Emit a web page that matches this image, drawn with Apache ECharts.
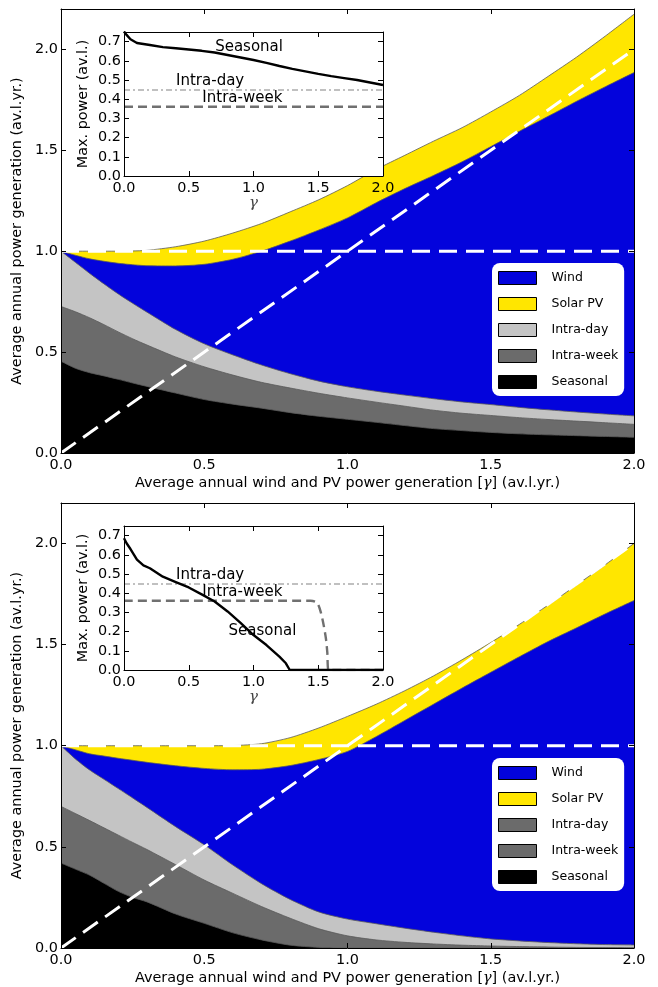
<!DOCTYPE html>
<html><head><meta charset="utf-8">
<script src="https://cdn.jsdelivr.net/npm/echarts@6/dist/echarts.min.js"></script>
<style>html,body{margin:0;padding:0;background:#fff}#c{width:658px;height:987px}</style>
</head><body><div id="c"></div>
<script>
// ---------- data ----------
const xs = [0,0.05,0.1,0.15,0.2,0.25,0.3,0.4,0.5,0.6,0.7,0.8,0.9,1.0,1.1,1.2,1.3,1.4,1.5,1.6,1.7,1.8,1.9,2.0];

// top panel: upper boundary of each layer (av.l.yr.)
const topSolar     = [1.0,1.0,1.0,1.0,1.0,1.001,1.004,1.022,1.05,1.09,1.137,1.195,1.255,1.325,1.405,1.475,1.545,1.612,1.69,1.772,1.866,1.962,2.066,2.174];
const topWind      = [1.0,0.98,0.962,0.95,0.94,0.933,0.928,0.927,0.935,0.96,1.0,1.05,1.105,1.165,1.24,1.31,1.375,1.443,1.518,1.594,1.668,1.743,1.815,1.885];
const topIntraDay  = [1.0,0.945,0.89,0.838,0.788,0.742,0.698,0.612,0.541,0.486,0.436,0.393,0.356,0.328,0.306,0.287,0.269,0.253,0.24,0.226,0.214,0.203,0.193,0.184];
const topIntraWeek = [0.726,0.70,0.67,0.636,0.60,0.566,0.535,0.476,0.427,0.386,0.35,0.322,0.296,0.273,0.252,0.232,0.212,0.197,0.186,0.175,0.166,0.158,0.15,0.142];
const topSeasonal  = [0.455,0.42,0.398,0.382,0.365,0.347,0.33,0.297,0.265,0.242,0.222,0.2,0.182,0.167,0.152,0.136,0.121,0.111,0.102,0.095,0.09,0.086,0.082,0.078];

// bottom panel
const botSolar     = [1.0,1.0,1.0,1.0,1.0,1.0,1.0,1.0,1.0,1.001,1.01,1.04,1.088,1.145,1.205,1.272,1.345,1.425,1.51,1.6,1.695,1.795,1.895,2.0];
const botWind      = [1.0,0.98,0.96,0.949,0.938,0.928,0.918,0.901,0.888,0.881,0.884,0.902,0.932,0.972,1.045,1.125,1.205,1.285,1.363,1.44,1.515,1.583,1.652,1.718];
const botIntraDay  = [1.0,0.935,0.88,0.834,0.788,0.742,0.695,0.60,0.51,0.41,0.318,0.24,0.178,0.143,0.12,0.098,0.078,0.06,0.045,0.035,0.027,0.021,0.017,0.015];
const botIntraWeek = [0.70,0.665,0.63,0.594,0.558,0.522,0.487,0.412,0.336,0.27,0.205,0.147,0.095,0.06,0.04,0.028,0.02,0.014,0.01,0.007,0.005,0.003,0.002,0.001];
const botSeasonal  = [0.42,0.39,0.36,0.32,0.28,0.25,0.228,0.168,0.122,0.075,0.04,0.014,0.003,0,0,0,0,0,0,0,0,0,0,0];

// reference lines
const demandX = [0, 2], demandY = [1, 1];
const diagX = [0, 2], diagY = [0, 2];

// insets: max. power (av.l.)
const topInsetX        = [0,0.02,0.05,0.1,0.2,0.3,0.4,0.5,0.6,0.7,0.8,0.9,1.0,1.1,1.2,1.3,1.4,1.5,1.6,1.7,1.8,1.9,2.0];
const topInsetSeasonal = [0.752,0.735,0.712,0.693,0.682,0.671,0.665,0.659,0.652,0.643,0.63,0.617,0.604,0.589,0.573,0.558,0.545,0.532,0.52,0.51,0.5,0.487,0.474];
const topInsetDayX = [0, 2],  topInsetDay  = [0.448, 0.448];
const topInsetWeekX = [0, 2], topInsetWeek = [0.361, 0.361];

const botInsetX        = [0,0.02,0.05,0.1,0.15,0.2,0.3,0.4,0.5,0.6,0.7,0.8,0.9,1.0,1.1,1.2,1.25,1.28,1.5,2.0];
const botInsetSeasonal = [0.686,0.66,0.63,0.575,0.545,0.53,0.486,0.458,0.43,0.394,0.357,0.305,0.245,0.182,0.13,0.07,0.035,0.0,0.0,0.0];
const botInsetDayX = [0, 2], botInsetDay = [0.448, 0.448];
const botInsetWeekX = [0,1.44,1.48,1.5,1.52,1.54,1.56,1.57,1.58,2.0];
const botInsetWeek  = [0.361,0.361,0.355,0.34,0.30,0.24,0.16,0.09,0.0,0.0];

// inset annotations: [x, y] of left edge / vertical centre
const topNotes = [['Seasonal',0.704,0.673],['Intra-day',0.402,0.495],['Intra-week',0.605,0.406]];
const botNotes = [['Intra-day',0.402,0.495],['Intra-week',0.605,0.406],['Seasonal',0.807,0.203]];

const xTicks = [0, 0.5, 1.0, 1.5, 2.0];
const yTicksMain = [0, 0.5, 1.0, 1.5, 2.0];
const yTicksInset = [0,0.1,0.2,0.3,0.4,0.5,0.6,0.7];

// ---------- chart ----------
const FONT = 'DejaVu Sans';
const C = {wind:'#0303dc', solar:'#ffe600', day:'#c4c4c4', week:'#6b6b6b', seas:'#000000'};
const pairs = (a, b) => a.map((v, i) => [v, b[i]]);

function axisPair(kind, gridIndex, min, max, interval, z, ticks, nameOpts) {
  const base = {
    type: 'value', gridIndex, min, max, interval, z,
    splitLine: {show: false},
    axisLine: {show: true, onZero: false, lineStyle: {color: '#000', width: 1}},
    axisTick: {show: true, inside: true, length: 5, lineStyle: {color: '#000', width: 1}, customValues: ticks},
  };
  const primary = Object.assign({}, base, {
    position: kind === 'x' ? 'bottom' : 'left',
    axisLabel: {show: true, color: '#000', fontSize: 14.4, fontFamily: FONT,
      margin: kind === 'x' ? 5 : 3, customValues: ticks, formatter: v => v.toFixed(1)}
  }, nameOpts || {});
  const mirror = Object.assign({}, base, {
    position: kind === 'x' ? 'top' : 'right',
    axisLabel: {show: false}
  });
  return [primary, mirror];
}

const xName = 'Average annual wind and PV power generation [{g|γ}] (av.l.yr.)';
const xNameStyle = {color: '#000', fontSize: 14.4, fontFamily: FONT,
  rich: {g: {fontFamily: 'DejaVu Serif', fontStyle: 'italic', fontSize: 14.4, color: '#000'}}};
const mainXName = {name: xName, nameLocation: 'middle', nameGap: 23, nameTextStyle: xNameStyle};
const mainYName = {name: 'Average annual power generation (av.l.yr.)', nameLocation: 'middle', nameGap: 36,
  nameTextStyle: {color: '#000', fontSize: 14.4, fontFamily: FONT}};
const insetXName = {name: 'γ', nameLocation: 'middle', nameGap: 19,
  nameTextStyle: {color: '#444', fontSize: 15, fontFamily: 'DejaVu Serif', fontStyle: 'italic'}};
const insetYName = {name: 'Max. power (av.l.)', nameLocation: 'middle', nameGap: 34,
  nameTextStyle: {color: '#000', fontSize: 14.4, fontFamily: FONT}};

const xAxis = [
  ...axisPair('x', 0, 0, 2, 0.5, 4, xTicks, mainXName),
  ...axisPair('x', 1, 0, 2, 0.5, 7, xTicks, insetXName),
  ...axisPair('x', 2, 0, 2, 0.5, 4, xTicks, mainXName),
  ...axisPair('x', 3, 0, 2, 0.5, 7, xTicks, insetXName),
];
const yAxis = [
  ...axisPair('y', 0, 0, 2.2, 0.5, 4, yTicksMain, mainYName),
  ...axisPair('y', 1, 0, 0.75, 0.1, 7, yTicksInset, insetYName),
  ...axisPair('y', 2, 0, 2.2, 0.5, 4, yTicksMain, mainYName),
  ...axisPair('y', 3, 0, 0.75, 0.1, 7, yTicksInset, insetYName),
];

function areaSeries(name, color, xa, ya, axisIdx) {
  return {
    type: 'line', name, data: pairs(xa, ya), xAxisIndex: axisIdx, yAxisIndex: axisIdx,
    symbol: 'none', smooth: 0.25, z: 2, silent: true, clip: true,
    lineStyle: {color: '#5a5a5a', width: 0.8},
    itemStyle: {color},
    areaStyle: {color, opacity: 1}
  };
}
function dashLine(xa, ya, axisIdx) {
  return {type: 'line', data: pairs(xa, ya), xAxisIndex: axisIdx, yAxisIndex: axisIdx,
    symbol: 'none', z: 3, silent: true,
    lineStyle: {color: '#fff', width: 3, type: [18, 9]}};
}
function insetLine(xa, ya, axisIdx, color, width, type, smooth) {
  return {type: 'line', data: pairs(xa, ya), xAxisIndex: axisIdx, yAxisIndex: axisIdx,
    symbol: 'none', z: 6, silent: true, smooth: smooth || false,
    lineStyle: {color, width, type}};
}
function notes(arr, axisIdx) {
  return {type: 'scatter', xAxisIndex: axisIdx, yAxisIndex: axisIdx, z: 8, silent: true,
    symbolSize: 0, itemStyle: {opacity: 1},
    data: arr.map(n => ({name: n[0], value: [n[1], n[2]]})),
    label: {show: true, formatter: '{b}', position: 'right', distance: 0, opacity: 1,
      color: '#000', fontSize: 15, fontFamily: FONT}};
}

const series = [
  // top main
  areaSeries('Solar PV', C.solar, xs, topSolar, 0),
  areaSeries('Wind', C.wind, xs, topWind, 0),
  areaSeries('Intra-day', C.day, xs, topIntraDay, 0),
  areaSeries('Intra-week', C.week, xs, topIntraWeek, 0),
  areaSeries('Seasonal', C.seas, xs, topSeasonal, 0),
  dashLine(demandX, demandY, 0),
  dashLine(diagX, diagY, 0),
  // top inset
  insetLine(topInsetDayX, topInsetDay, 2, '#c0c0c0', 2, [6, 3, 2, 3]),
  insetLine(topInsetWeekX, topInsetWeek, 2, '#707070', 2.4, [9, 5]),
  insetLine(topInsetX, topInsetSeasonal, 2, '#000', 2.4, 'solid'),
  notes(topNotes, 2),
  // bottom main
  areaSeries('Solar PV', C.solar, xs, botSolar, 4),
  areaSeries('Wind', C.wind, xs, botWind, 4),
  areaSeries('Intra-day', C.day, xs, botIntraDay, 4),
  areaSeries('Intra-week', C.week, xs, botIntraWeek, 4),
  areaSeries('Seasonal', C.seas, xs, botSeasonal, 4),
  dashLine(demandX, demandY, 4),
  dashLine(diagX, diagY, 4),
  // bottom inset
  insetLine(botInsetDayX, botInsetDay, 6, '#c0c0c0', 2, [6, 3, 2, 3]),
  insetLine(botInsetWeekX, botInsetWeek, 6, '#707070', 2.4, [9, 5], 0.3),
  insetLine(botInsetX, botInsetSeasonal, 6, '#000', 2.4, 'solid'),
  notes(botNotes, 6),
];

function legendFor(top, dayColor) {
  const it = c => ({color: c, borderColor: '#000', borderWidth: 1});
  return {
    show: true, orient: 'vertical', left: 492, top, z: 10, selectedMode: false,
    icon: 'rect', itemWidth: 38, itemHeight: 13, itemGap: 12,
    padding: [8, 6, 7, 6], backgroundColor: '#fff', borderRadius: 8, borderWidth: 0,
    textStyle: {color: '#000', fontSize: 12.5, fontFamily: FONT, padding: [0, 0, 0, 10]},
    data: [
      {name: 'Wind', itemStyle: it(C.wind)},
      {name: 'Solar PV', itemStyle: it(C.solar)},
      {name: 'Intra-day', itemStyle: it(dayColor)},
      {name: 'Intra-week', itemStyle: it(C.week)},
      {name: 'Seasonal', itemStyle: it(C.seas)},
    ]
  };
}

const chart = echarts.init(document.getElementById('c'), null, {renderer: 'canvas'});
chart.setOption({
  animation: false,
  backgroundColor: '#fff',
  grid: [
    {left: 61, top: 9, width: 573, height: 444, show: false},
    {left: 124, top: 32, width: 259, height: 144, show: true, backgroundColor: '#fff', borderWidth: 0, z: 5},
    {left: 61, top: 503, width: 573, height: 445, show: false},
    {left: 124, top: 526, width: 259, height: 144, show: true, backgroundColor: '#fff', borderWidth: 0, z: 5},
  ],
  xAxis, yAxis,
  legend: [legendFor(263, C.day), legendFor(758, C.week)],
  series
});
</script>
</body></html>
